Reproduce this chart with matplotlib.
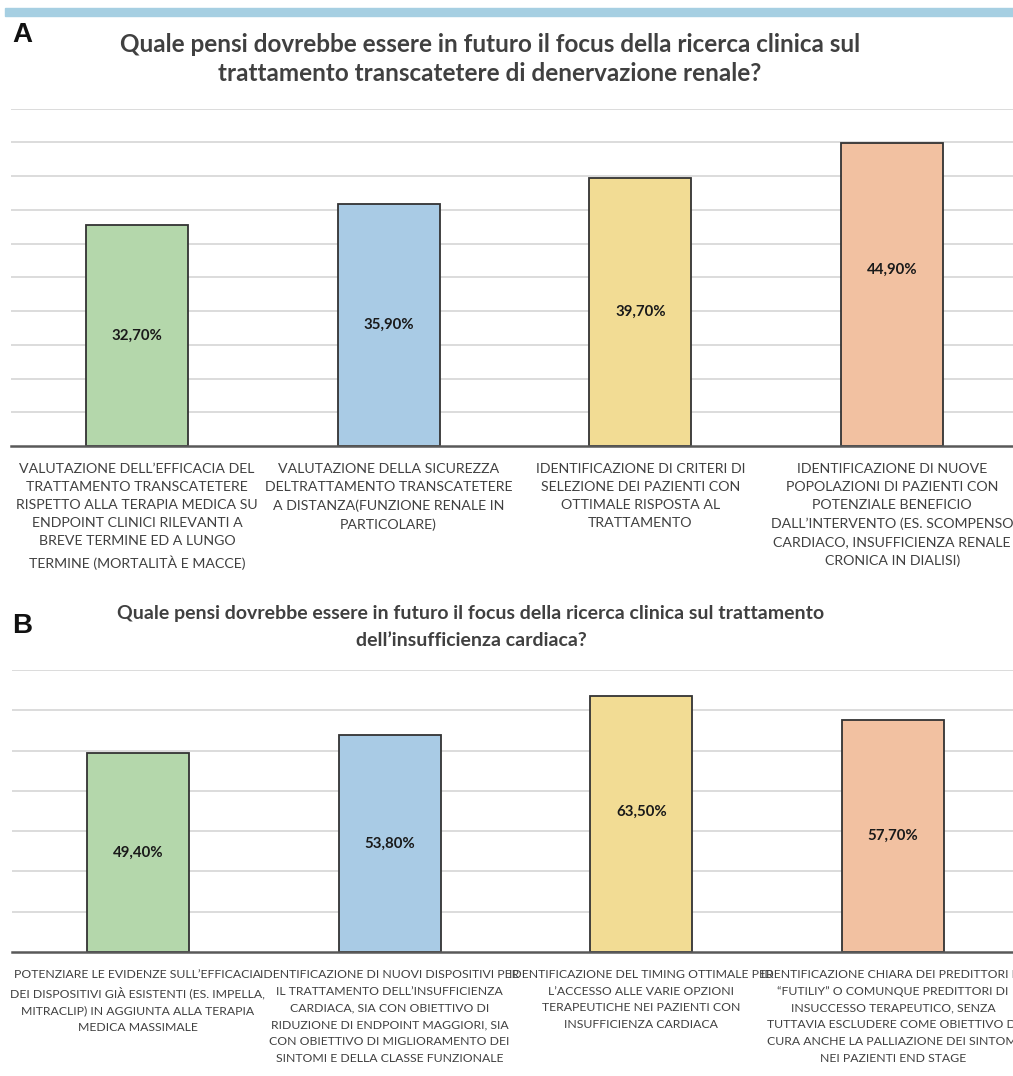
import matplotlib.pyplot as plt
from matplotlib.patches import Rectangle

# panel A: renal denervation
cats_a = [
    "VALUTAZIONE DELL\u2019EFFICACIA DEL\nTRATTAMENTO TRANSCATETERE\nRISPETTO ALLA TERAPIA MEDICA SU\nENDPOINT CLINICI RILEVANTI A\nBREVE TERMINE ED A LUNGO\nTERMINE (MORTALIT\u00c0 E MACCE)",
    "VALUTAZIONE DELLA SICUREZZA\nDELTRATTAMENTO TRANSCATETERE\nA DISTANZA(FUNZIONE RENALE IN\nPARTICOLARE)",
    "IDENTIFICAZIONE DI CRITERI DI\nSELEZIONE DEI PAZIENTI CON\nOTTIMALE RISPOSTA AL\nTRATTAMENTO",
    "IDENTIFICAZIONE DI NUOVE\nPOPOLAZIONI DI PAZIENTI CON\nPOTENZIALE BENEFICIO\nDALL\u2019INTERVENTO (ES. SCOMPENSO\nCARDIACO, INSUFFICIENZA RENALE\nCRONICA IN DIALISI)",
]
vals_a = [32.7, 35.9, 39.7, 44.9]

# panel B: heart failure
cats_b = [
    "POTENZIARE LE EVIDENZE SULL\u2019EFFICACIA\nDEI DISPOSITIVI GI\u00c0 ESISTENTI (ES. IMPELLA,\nMITRACLIP) IN AGGIUNTA ALLA TERAPIA\nMEDICA MASSIMALE",
    "IDENTIFICAZIONE DI NUOVI DISPOSITIVI PER\nIL TRATTAMENTO DELL\u2019INSUFFICIENZA\nCARDIACA, SIA CON OBIETTIVO DI\nRIDUZIONE DI ENDPOINT MAGGIORI, SIA\nCON OBIETTIVO DI MIGLIORAMENTO DEI\nSINTOMI E DELLA CLASSE FUNZIONALE",
    "IDENTIFICAZIONE DEL TIMING OTTIMALE PER\nL\u2019ACCESSO ALLE VARIE OPZIONI\nTERAPEUTICHE NEI PAZIENTI CON\nINSUFFICIENZA CARDIACA",
    "IDENTIFICAZIONE CHIARA DEI PREDITTORI DI\n\u201cFUTILIY\u201d O COMUNQUE PREDITTORI DI\nINSUCCESSO TERAPEUTICO, SENZA\nTUTTAVIA ESCLUDERE COME OBIETTIVO DI\nCURA ANCHE LA PALLIAZIONE DEI SINTOMI\nNEI PAZIENTI END STAGE",
]
vals_b = [49.4, 53.8, 63.5, 57.7]

colors = ["#b4d7ab", "#a9cbe5", "#f2dc94", "#f2c1a1"]

title_a = "Quale pensi dovrebbe essere in futuro il focus della ricerca clinica sul\ntrattamento transcatetere di denervazione renale?"
title_b = "Quale pensi dovrebbe essere in futuro il focus della ricerca clinica sul trattamento\ndell\u2019insufficienza cardiaca?"

plt.rcParams['font.family'] = ['Lato', 'DejaVu Sans']
W, H = 1013, 1076
fig = plt.figure(figsize=(W / 100, H / 100), dpi=100)

# blue strip along the top
fig.patches.append(Rectangle((5 / W, 1 - 16 / H), 1, 8 / H, transform=fig.transFigure,
                             color="#a6cfe2", zorder=0))


def panel(rect, cats, vals, ymax, step, label_pos, cat_size, cat_ls):
    ax = fig.add_axes(rect)
    x = range(len(vals))
    ax.bar(x, vals, width=0.405, color=colors, edgecolor="#333333", linewidth=1.3, zorder=3)
    ax.set_xlim(-0.5, len(vals) - 0.5)
    ax.set_ylim(0, ymax)
    ax.set_yticks([v for v in range(step, ymax + 1, step)])
    ax.yaxis.grid(True, color="#d9d9d9", linewidth=1.3, zorder=0)
    ax.tick_params(left=False, labelleft=False, bottom=False, labelbottom=False)
    for s in ["top", "left", "right"]:
        ax.spines[s].set_visible(False)
    ax.spines["bottom"].set_color("#595959")
    ax.spines["bottom"].set_linewidth(1.8)
    ax.spines["bottom"].set_zorder(4)
    for i, v in enumerate(vals):
        ax.text(i, label_pos[i], f"{v:.2f}%".replace(".", ","), ha="center", va="center",
                fontsize=10.8, fontweight="bold", color="#1a1a1a", zorder=5)
        ax.annotate(cats[i], (i, 0), xytext=(0, -12), textcoords="offset points",
                    ha="center", va="top", fontsize=cat_size, color="#404040",
                    linespacing=cat_ls, annotation_clip=False)
    return ax


panel([11 / W, 1 - 446 / H, 1007 / W, 337.5 / H], cats_a, vals_a, 50, 5,
      [vals_a[0] / 2, vals_a[1] / 2, vals_a[2] / 2, 26.1], 10.2, 1.62)
panel([12 / W, 1 - 952 / H, 1007 / W, 282 / H], cats_b, vals_b, 70, 10,
      [vals_b[0] / 2, vals_b[1] / 2, 34.8, vals_b[3] / 2], 8.8, 1.65)

fig.text(490 / W, 1 - 59 / H, title_a, ha="center", va="center", fontsize=17.5,
         fontweight="bold", color="#404040", linespacing=1.335)
fig.text(471 / W, 1 - 627 / H, title_b, ha="center", va="center", fontsize=14,
         fontweight="bold", color="#404040", linespacing=1.67)
fig.text(12 / W, 1 - 42 / H, "A", fontsize=20, fontweight="bold", color="#111111",
         family="Liberation Sans")
fig.text(12 / W, 1 - 633 / H, "B", fontsize=20, fontweight="bold", color="#111111",
         family="Liberation Sans")

fig.savefig("out.png", dpi=100)
